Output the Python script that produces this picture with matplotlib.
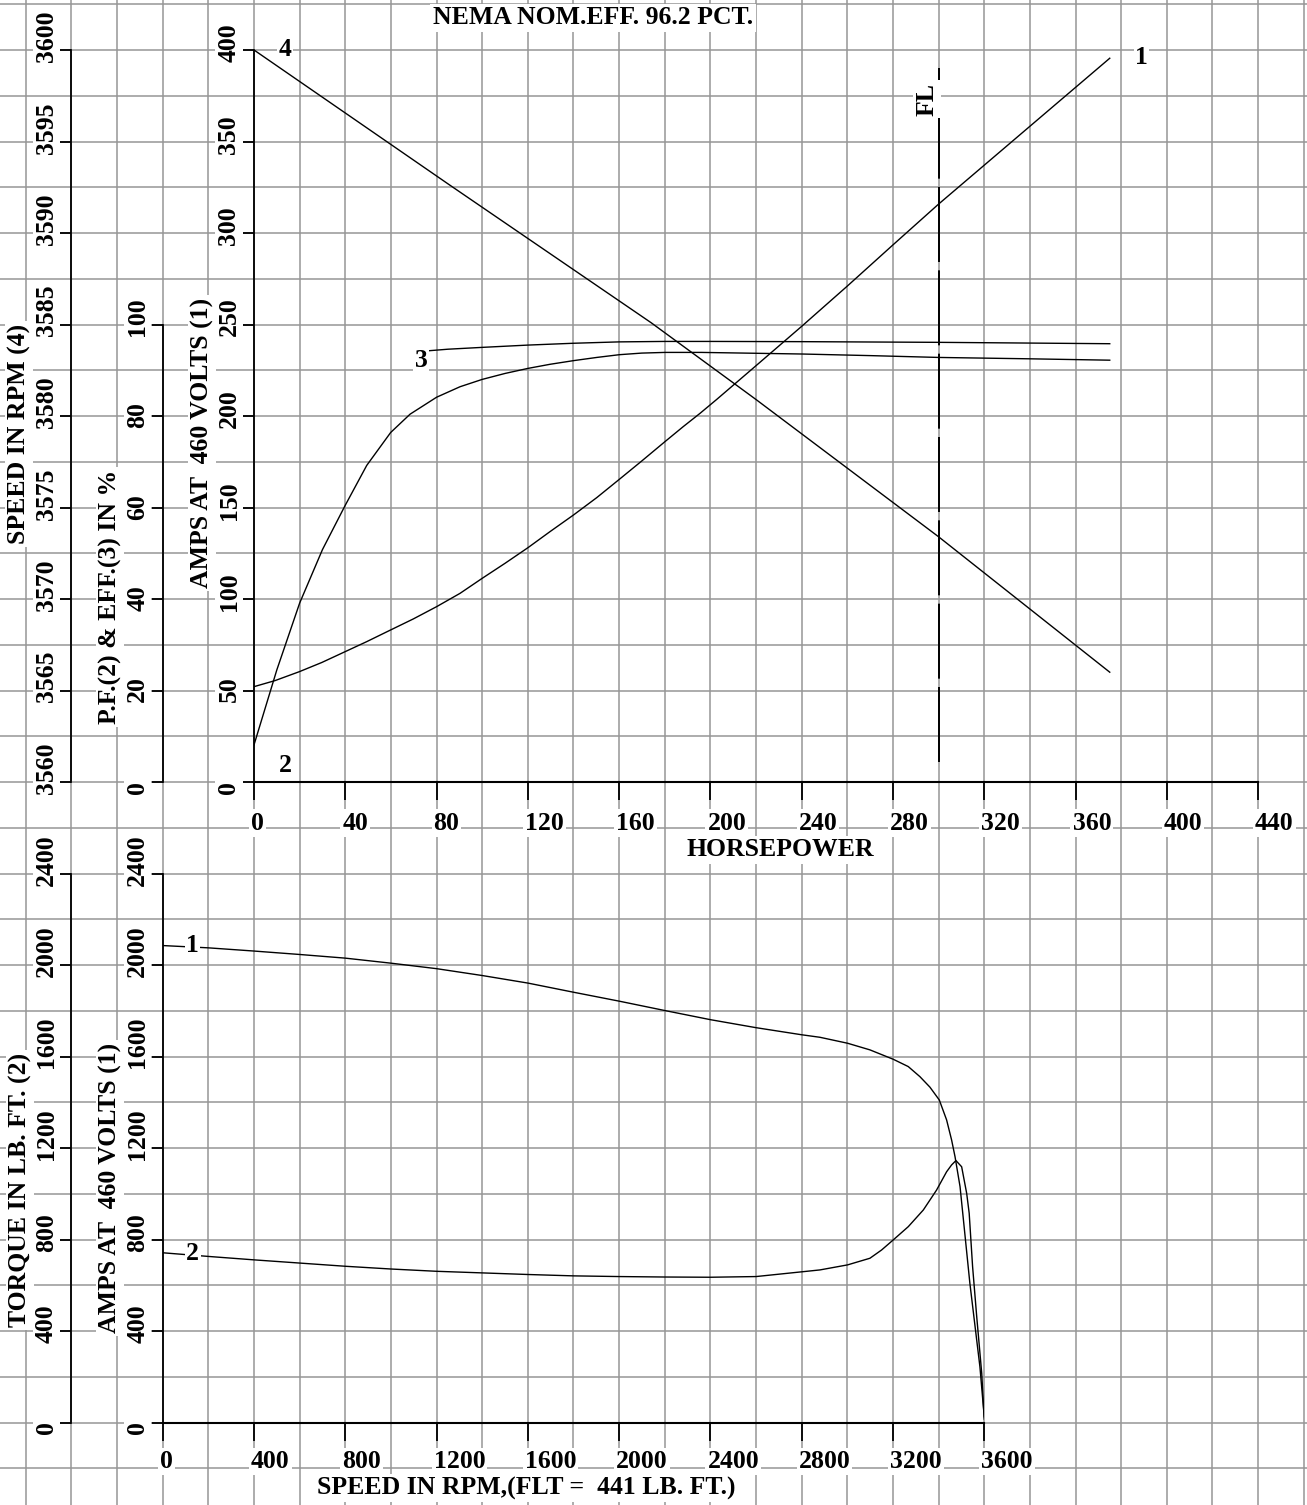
import matplotlib.pyplot as plt

plt.rcParams['font.family'] = ['Liberation Serif', 'DejaVu Serif']
plt.rcParams['font.weight'] = 'bold'
plt.rcParams['font.size'] = 18.5
plt.rcParams['lines.scale_dashes'] = False

# ---- performance vs horsepower (top chart)
hp_amps = [0, 9.2, 19.9, 29.7, 39.9, 49.4, 59.9, 69.8, 80, 90.3, 100, 110, 120, 129.7, 140,
           150.2, 160.1, 169.9, 180.1, 188.1, 195.5, 202.8, 220, 240, 260, 280, 300, 375]
amps_hp = [52.1, 55.4, 60.3, 65.3, 71.2, 76.7, 83.1, 89.1, 95.8, 103.1, 111.3, 119.5, 128, 136.8, 145.9,
           155.4, 165.4, 175.4, 186, 194.2, 201.5, 209.1, 227.5, 249, 271, 293.5, 315.8, 395.5]

hp_speed = [0, 86, 174, 220, 300, 375]
speed = [3600, 3592.6, 3585.1, 3580.9, 3573.4, 3566]

hp_pf = [0, 10, 20, 30, 40, 49.4, 59.9, 68.4, 80, 90.3, 100, 110, 120, 129.7, 140,
         150.2, 160.1, 169.9, 180.1, 196, 240, 270, 300, 340, 375]
pf = [8.1, 24.5, 39.1, 50.8, 60.5, 69.2, 76.4, 80.4, 84.1, 86.4, 88.0, 89.3, 90.4, 91.3, 92.1,
      92.8, 93.4, 93.75, 93.9, 93.9, 93.55, 93.2, 92.8, 92.5, 92.2]

hp_eff = [75, 85, 100, 120, 140, 150, 160, 180, 200, 240, 300, 375]
eff = [94.2, 94.6, 95.0, 95.5, 95.9, 96.05, 96.2, 96.3, 96.3, 96.25, 96.1, 95.8]

fl_hp = 300

amps_ticks = [0, 50, 100, 150, 200, 250, 300, 350, 400]
pf_ticks = [0, 20, 40, 60, 80, 100]
speed_ticks = [3560, 3565, 3570, 3575, 3580, 3585, 3590, 3595, 3600]
hp_ticks = [0, 40, 80, 120, 160, 200, 240, 280, 320, 360, 400, 440]

# ---- speed-torque (bottom chart)
rpm_amps = [0, 200, 400, 600, 800, 1000, 1200, 1400, 1600, 1800, 2000, 2200, 2400, 2600,
            2800, 2880, 3001, 3099, 3201, 3267, 3318, 3362, 3403, 3435, 3457, 3472, 3494,
            3537, 3581, 3600]
amps_rpm = [2085, 2075, 2061, 2046, 2030, 2008, 1984, 1954, 1921, 1881, 1842, 1801, 1761, 1726,
            1695, 1684, 1658, 1629, 1588, 1556, 1512, 1466, 1410, 1323, 1235, 1162, 1031,
            609, 244, 25]

rpm_torque = [0, 200, 400, 600, 800, 1000, 1200, 1400, 1600, 1800, 2000, 2200, 2400, 2600,
              2803, 2880, 3001, 3099, 3150, 3201, 3267, 3333, 3391, 3435, 3457, 3476, 3501,
              3523, 3534, 3549, 3567, 3589, 3600]
torque = [742, 726, 711, 697, 683, 671, 661, 654, 647, 641, 638, 636, 635, 638,
          659, 667, 689, 718, 754, 798, 856, 929, 1016, 1096, 1126, 1145, 1118,
          1002, 915, 681, 463, 215, 15]

rpm_ticks = [0, 400, 800, 1200, 1600, 2000, 2400, 2800, 3200, 3600]
bot_ticks = [0, 400, 800, 1200, 1600, 2000, 2400]

# ---- layout in pixels
W, H = 1307, 1505
X0, Y0 = 254, 782        # horsepower chart origin
GX, GY = 45.64, 45.75    # grid pitch
GRID = '#969696'


def rect(x1, y1, x2, y2):
    return [x1 / W, 1 - y2 / H, (x2 - x1) / W, (y2 - y1) / H]


def fig_text(x, y, s, rot=0):
    fig.text(x / W, 1 - y / H, s, rotation=rot, ha='center', va='center',
             bbox=dict(fc='white', ec='none', pad=2))


def style_y(ax, pos, ticks, bounds=None):
    for s in ax.spines.values():
        s.set_visible(False)
    ax.spines['left'].set_visible(True)
    ax.spines['left'].set_position(('axes', pos))
    ax.spines['left'].set_linewidth(1.3)
    if bounds:
        ax.spines['left'].set_bounds(*bounds)
    ax.yaxis.set_ticks_position('left')
    ax.set_yticks(ticks)
    ax.tick_params(axis='y', direction='out', length=8, width=1.3, labelleft=False, labelright=False)
    for v in ticks:
        ax.annotate(str(v), xy=(pos, v), xycoords=ax.get_yaxis_transform(),
                    xytext=(-25, -12), textcoords='offset pixels', rotation=90,
                    rotation_mode='anchor', ha='left', va='center', annotation_clip=False,
                    bbox=dict(fc='white', ec='none', pad=1.5))


def style_x(ax, ticks, dy):
    ax.spines['bottom'].set_linewidth(1.5)
    ax.set_xticks(ticks)
    ax.tick_params(axis='x', direction='out', length=13, width=1.3, labelbottom=False)
    for v in ticks:
        ax.annotate(str(v), xy=(v, 0), xycoords=ax.get_xaxis_transform(),
                    xytext=(-3, -dy), textcoords='offset pixels', ha='left', va='center',
                    annotation_clip=False, bbox=dict(fc='white', ec='none', pad=1.5))


def label(ax, s, x, y, dx, dy):
    ax.annotate(s, xy=(x, y), xytext=(dx, dy), textcoords='offset pixels',
                ha='center', va='center', annotation_clip=False,
                bbox=dict(fc='white', ec='none', pad=1))


fig = plt.figure(figsize=(W / 100, H / 100), dpi=100)

# background grid paper
bg = fig.add_axes([0, 0, 1, 1])
bg.set_xlim(0, W)
bg.set_ylim(H, 0)
bg.axis('off')
for k in range(-5, 24):
    bg.axvline(X0 + k * GX, color=GRID, lw=1.1)
for k in range(-17, 16):
    bg.axhline(Y0 + k * GY, color=GRID, lw=1.1)

# ---- top chart
ax1 = fig.add_axes(rect(X0, Y0 - 16 * GY, X0 + 22 * GX, Y0))
ax1.patch.set_visible(False)
ax1.set_xlim(0, 440)
ax1.set_ylim(0, 400)
style_y(ax1, 0, amps_ticks)
ax1.spines['bottom'].set_visible(True)
style_x(ax1, hp_ticks, 41)

ax_pf = ax1.twinx()
ax_pf.set_ylim(0, 160)
style_y(ax_pf, -2 / 22, pf_ticks, (0, 100))

ax_spd = ax1.twinx()
ax_spd.set_ylim(3560, 3600)
style_y(ax_spd, -4 / 22, speed_ticks)

ax1.plot(hp_amps, amps_hp, color='black', lw=1.0)
ax_spd.plot(hp_speed, speed, color='black', lw=1.0)
ax_pf.plot(hp_pf, pf, color='black', lw=1.0)
ax_pf.plot(hp_eff, eff, color='black', lw=1.0)
ax1.plot([fl_hp, fl_hp], [11, 390], color='black', lw=1.4, dashes=(54, 6))

label(ax1, '1', hp_amps[-1], amps_hp[-1], 32, 1)
label(ax_spd, '4', hp_speed[0], speed[0], 31, 0)
label(ax_pf, '2', hp_pf[0], pf[0], 31, -21)
label(ax_pf, '3', hp_eff[0], eff[0], -4, -9)

# ---- bottom chart
ax2 = fig.add_axes(rect(X0 - 2 * GX, Y0 + 2 * GY, X0 + 16 * GX, Y0 + 14 * GY))
ax2.patch.set_visible(False)
ax2.set_xlim(0, 3600)
ax2.set_ylim(0, 2400)
style_y(ax2, 0, bot_ticks)
ax2.spines['bottom'].set_visible(True)
style_x(ax2, rpm_ticks, 39)

ax_tq = ax2.twinx()
ax_tq.set_ylim(0, 2400)
style_y(ax_tq, -2 / 18, bot_ticks)

ax2.plot(rpm_amps, amps_rpm, color='black', lw=1.0)
ax_tq.plot(rpm_torque, torque, color='black', lw=1.0)
label(ax2, '1', rpm_amps[0], amps_rpm[0], 30, 0)
label(ax_tq, '2', rpm_torque[0], torque[0], 30, -1)

# ---- titles
fig_text(593, 18, 'NEMA NOM.EFF. 96.2 PCT.')
fig_text(927, 99, 'FL', 90)
fig_text(19, 434, 'SPEED IN RPM (4)', 90)
fig_text(110, 597, 'P.F.(2) & EFF.(3) IN %', 90)
fig_text(202, 443, 'AMPS AT  460 VOLTS (1)', 90)
fig_text(780, 850, 'HORSEPOWER')
fig_text(20, 1190, 'TORQUE IN LB. FT. (2)', 90)
fig_text(110, 1188, 'AMPS AT  460 VOLTS (1)', 90)
fig_text(526, 1488, 'SPEED IN RPM,(FLT =  441 LB. FT.)')

fig.savefig('out.png', dpi=100)
